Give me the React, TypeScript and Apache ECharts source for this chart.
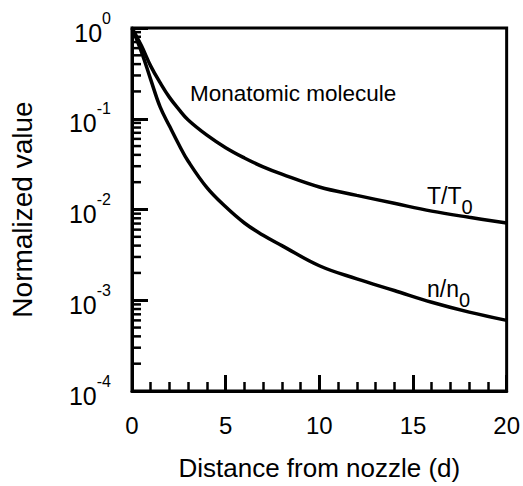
import React, { useEffect, useRef } from "react";
import * as echarts from "echarts";

const distance = [0, 0.5, 1, 1.5, 2, 2.5, 3, 4, 5, 6, 7, 8, 10, 12, 14, 16, 18, 20];
const tempRatio = [1.0, 0.64, 0.38, 0.25, 0.172, 0.127, 0.097, 0.066, 0.048, 0.037, 0.0295, 0.0245, 0.0177, 0.0143, 0.0117, 0.0096, 0.0082, 0.0071];
const densityRatio = [1.0, 0.55, 0.27, 0.135, 0.083, 0.052, 0.034, 0.0174, 0.0107, 0.0071, 0.0052, 0.004, 0.0024, 0.00172, 0.00128, 0.00095, 0.00074, 0.0006];
const decades = [-4, -3, -2, -1];
const minorMultipliers = [2, 3, 4, 5, 6, 7, 8, 9];
const xTicks = [0, 5, 10, 15, 20];

const FONT = "'Liberation Sans', Arial, Helvetica, sans-serif";

export default function App() {
  const ref = useRef<HTMLDivElement>(null);
  useEffect(() => {
    if (!ref.current) return;
    const chart = echarts.init(ref.current, null, { renderer: "svg" });
    const minorData: number[][] = [];
    decades.forEach((d) => minorMultipliers.forEach((m) => minorData.push([0, m * Math.pow(10, d)])));
    const option: any = {
      animation: false,
      backgroundColor: "#fff",
      grid: {
        left: 129,
        top: 28,
        right: 16,
        bottom: 85,
        show: true,
        borderColor: "#000",
        borderWidth: 3,
        backgroundColor: "transparent",
      },
      xAxis: {
        type: "value",
        min: xTicks[0],
        max: xTicks[xTicks.length - 1],
        interval: 5,
        axisLine: { onZero: false, lineStyle: { color: "#000", width: 3 } },
        axisTick: { show: true, inside: true, length: 16, lineStyle: { color: "#000", width: 3 } },
        minorTick: { show: true, splitNumber: 5, length: 9, lineStyle: { color: "#000", width: 2.5 } },
        splitLine: { show: false },
        axisLabel: { color: "#000", fontSize: 24, fontFamily: FONT, margin: 22 },
        name: "Distance from nozzle (d)",
        nameLocation: "middle",
        nameGap: 64,
        nameTextStyle: { color: "#000", fontSize: 26, fontFamily: FONT },
      },
      yAxis: {
        type: "log",
        logBase: 10,
        min: 1e-4,
        max: 1,
        axisLine: { lineStyle: { color: "#000", width: 3 } },
        axisTick: { show: true, inside: true, length: 16, lineStyle: { color: "#000", width: 3 } },
        splitLine: { show: false },
        axisLabel: {
          margin: 21,
          color: "#000",
          formatter: (v: number) => `{b|10}{s|${Math.round(Math.log10(v))}}`,
          rich: {
            b: { fontSize: 25, fontFamily: FONT, color: "#000", lineHeight: 36, padding: [10, 0, 0, 0], verticalAlign: "top" },
            s: { fontSize: 16, fontFamily: FONT, color: "#000", lineHeight: 36, verticalAlign: "top" },
          },
        },
        name: "Normalized value",
        nameLocation: "middle",
        nameGap: 96,
        nameTextStyle: { color: "#000", fontSize: 28, fontFamily: FONT },
      },
      series: [
        {
          type: "line",
          name: "T/T0",
          data: distance.map((x, i) => [x, tempRatio[i]]),
          showSymbol: false,
          smooth: 0.4,
          lineStyle: { color: "#000", width: 3.5 },
        },
        {
          type: "line",
          name: "n/n0",
          data: distance.map((x, i) => [x, densityRatio[i]]),
          showSymbol: false,
          smooth: 0.4,
          lineStyle: { color: "#000", width: 3.5 },
        },
        {
          type: "custom",
          data: minorData,
          clip: false,
          silent: true,
          z: 5,
          renderItem: (params: any, api: any) => {
            const p = api.coord([api.value(0), api.value(1)]);
            return {
              type: "line",
              shape: { x1: p[0], y1: p[1], x2: p[0] + 9, y2: p[1] },
              style: { stroke: "#000", lineWidth: 2.5 },
            };
          },
        },
      ],
      graphic: [
        {
          type: "text",
          left: 190,
          top: 82,
          style: { text: "Monatomic molecule", fontSize: 22.5, fontFamily: FONT, fill: "#000" },
        },
        {
          type: "text",
          left: 427,
          top: 184,
          style: {
            text: "{m|T/T}{s|0}",
            fill: "#000",
            rich: {
              m: { fontSize: 23, fontFamily: FONT, lineHeight: 24, verticalAlign: "top" },
              s: { fontSize: 20, fontFamily: FONT, lineHeight: 18, padding: [13, 0, 0, 0], verticalAlign: "top" },
            },
          },
        },
        {
          type: "text",
          left: 427,
          top: 277,
          style: {
            text: "{m|n/n}{s|0}",
            fill: "#000",
            rich: {
              m: { fontSize: 23, fontFamily: FONT, lineHeight: 24, verticalAlign: "top" },
              s: { fontSize: 20, fontFamily: FONT, lineHeight: 18, padding: [13, 0, 0, 0], verticalAlign: "top" },
            },
          },
        },
      ],
    };
    chart.setOption(option);
    return () => chart.dispose();
  }, []);
  return <div ref={ref} style={{ position: "fixed", left: 0, top: 0, width: 523, height: 486 }} />;
}
